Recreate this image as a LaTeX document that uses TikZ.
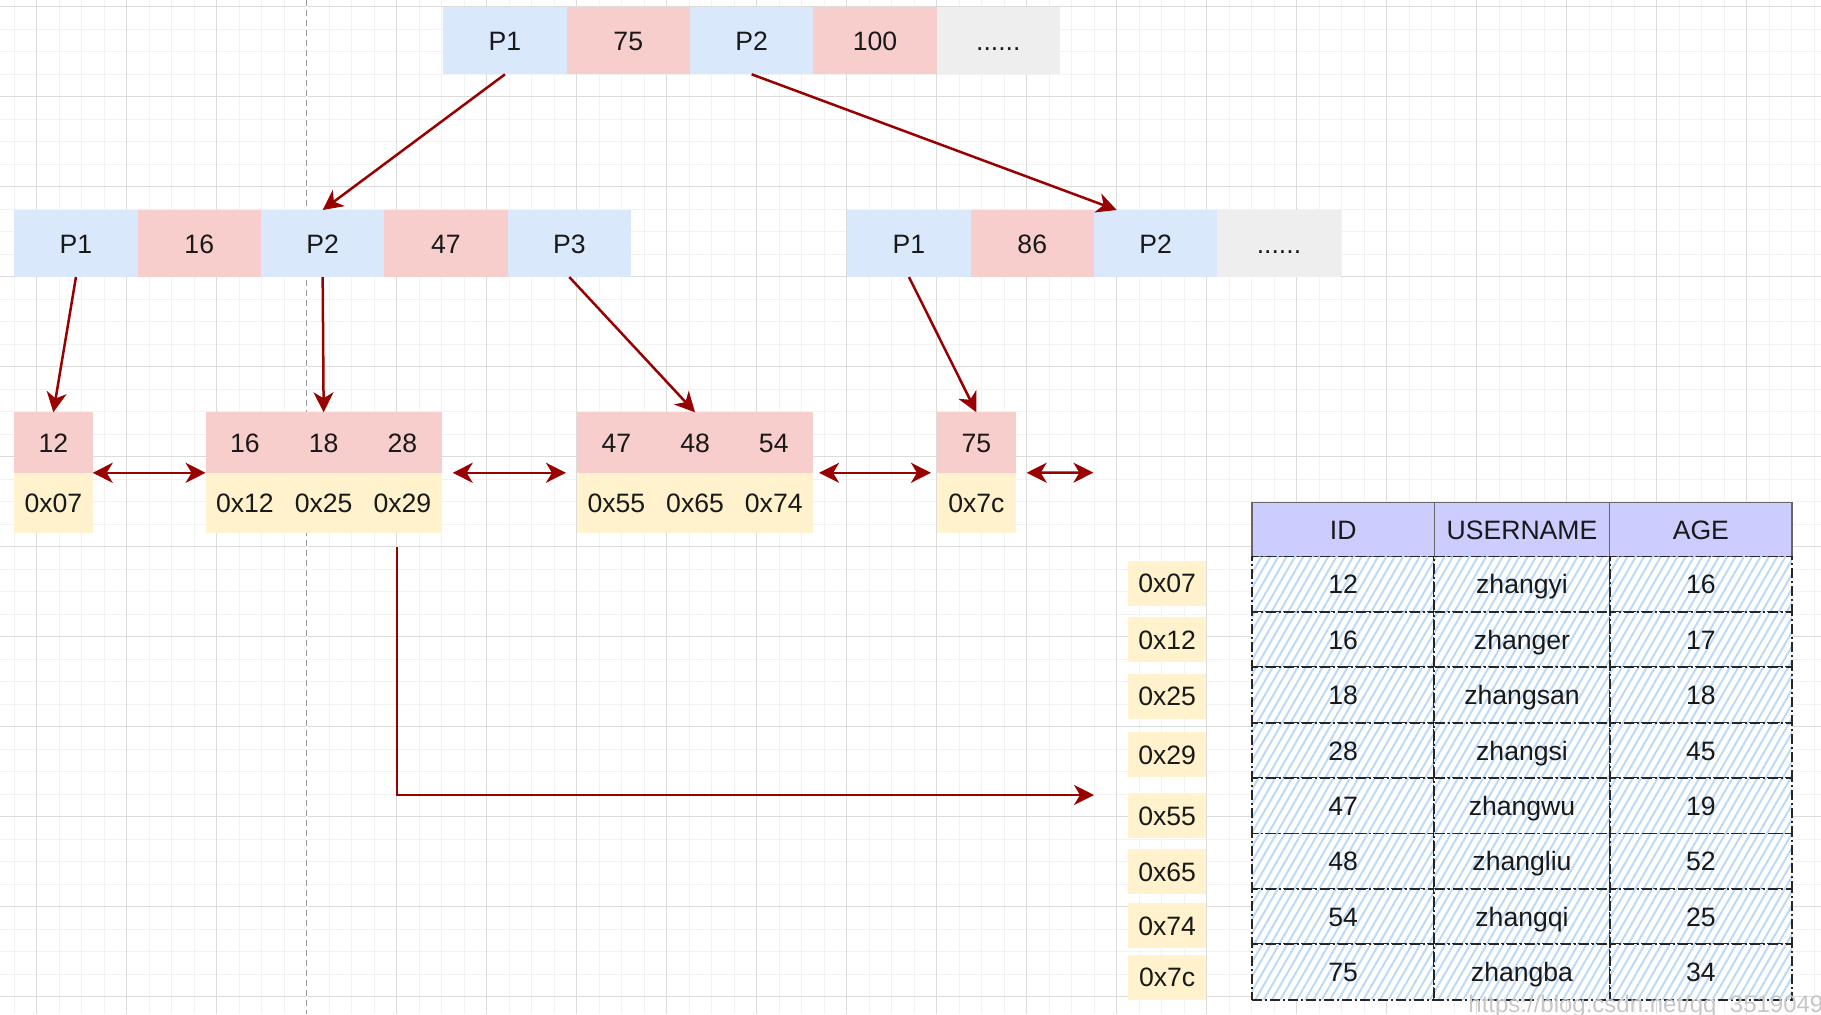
\documentclass[tikz,border=0pt]{standalone}
\usepackage{fontspec}
\setmainfont{Liberation Sans}
\usetikzlibrary{arrows.meta,patterns.meta,calc}
\definecolor{cblue}{HTML}{DAE8FC}
\definecolor{cpink}{HTML}{F8CECC}
\definecolor{cgray}{HTML}{EEEEEE}
\definecolor{cyel}{HTML}{FFF2CC}
\definecolor{cred}{HTML}{990000}
\definecolor{chead}{HTML}{CCCCFF}
\definecolor{chatch}{HTML}{BCDAF8}
\definecolor{gminor}{HTML}{F2F2F2}
\definecolor{gmajor}{HTML}{DCDCDC}
\begin{document}
\begin{tikzpicture}[x=0.5pt,y=-0.5pt,
 cellbase/.style={inner sep=0pt, outer sep=0pt, anchor=north west, text=black!90, font=\fontsize{13.3}{16}\selectfont, text height=9.6pt, text depth=-2pt},
 pcell/.style={cellbase, fill=cblue, minimum width=61.67pt, minimum height=33.5pt},
 kcell/.style={cellbase, fill=cpink, minimum width=61.67pt, minimum height=33.5pt},
 dcell/.style={cellbase, fill=cgray, minimum width=61.67pt, minimum height=33.5pt},
 lkey/.style={cellbase, fill=cpink, minimum width=39.35pt, minimum height=30.25pt, text depth=-2.6pt},
 laddr/.style={cellbase, fill=cyel, minimum width=39.35pt, minimum height=30.25pt, text depth=-2.6pt},
 abox/.style={cellbase, fill=cyel, minimum width=38.85pt, minimum height=22.25pt, text depth=-1.6pt},
 hcell/.style={cellbase, fill=chead, draw=black!60, line width=0.75pt, minimum height=27pt},
 bcell/.style={cellbase, preaction={fill=white}, pattern={Lines[angle=60,distance=3.6pt,line width=1pt]}, pattern color=chatch, draw=black!85, line width=0.9pt, dash pattern=on 5pt off 1.5pt on 1pt off 1.5pt, minimum height=27.7pt},
 wa/.style={minimum width=91.15pt},
 wb/.style={minimum width=87.7pt},
 link/.style={draw=cred, line width=1.25pt, -{Stealth[length=10pt,width=10pt,inset=3pt]}},
 blink/.style={draw=cred, line width=1.25pt, {Stealth[length=10pt,width=10pt,inset=3pt]}-{Stealth[length=10pt,width=10pt,inset=3pt]}}
]
\path[use as bounding box] (0,0) rectangle (1821,1014);
\clip (0,0) rectangle (1821,1014);
\fill[white] (0,0) rectangle (1821,1014);
% grid
\foreach \i in {0,...,80} \draw[gminor, line width=0.5pt] ({14.2+22.5*\i},0) -- ++(0,1014);
\foreach \j in {0,...,44} \draw[gminor, line width=0.5pt] (0,{6.7+22.5*\j}) -- ++(1821,0);
\foreach \i in {0,...,19} \draw[gmajor, line width=0.5pt] ({36.7+90*\i},0) -- ++(0,1014);
\foreach \j in {0,...,11} \draw[gmajor, line width=0.5pt] (0,{6.7+90*\j}) -- ++(1821,0);
\draw[white, line width=0.8pt] (306.7,0) -- (306.7,1014);
\draw[black!40, line width=0.6pt, dash pattern=on 3pt off 2pt] (306.7,0) -- (306.7,1014);

% root
\node[pcell] (t1) at (443.3,7.3) {P1};
\node[kcell] (t2) at (566.6,7.3) {75};
\node[pcell] (t3) at (690,7.3) {P2};
\node[kcell] (t4) at (813.3,7.3) {100};
\node[dcell] (t5) at (936.6,7.3) {......};

% second level left
\node[pcell] (a1) at (14.3,210) {P1};
\node[kcell] (a2) at (137.6,210) {16};
\node[pcell] (a3) at (261,210) {P2};
\node[kcell] (a4) at (384.3,210) {47};
\node[pcell] (a5) at (507.6,210) {P3};

% second level right
\node[pcell] (b1) at (847.3,210) {P1};
\node[kcell] (b2) at (970.6,210) {86};
\node[pcell] (b3) at (1094,210) {P2};
\node[dcell] (b4) at (1217.3,210) {......};

% leaves
\node[lkey] (l1k) at (14,412.3) {12};
\node[laddr] (l1a) at (14,472.8) {0x07};

\node[lkey] (l2k1) at (205.6,412.3) {16};
\node[lkey] (l2k2) at (284.3,412.3) {18};
\node[lkey] (l2k3) at (363,412.3) {28};
\node[laddr] (l2a1) at (205.6,472.8) {0x12};
\node[laddr] (l2a2) at (284.3,472.8) {0x25};
\node[laddr] (l2a3) at (363,472.8) {0x29};

\node[lkey] (l3k1) at (577,412.3) {47};
\node[lkey] (l3k2) at (655.7,412.3) {48};
\node[lkey] (l3k3) at (734.4,412.3) {54};
\node[laddr] (l3a1) at (577,472.8) {0x55};
\node[laddr] (l3a2) at (655.7,472.8) {0x65};
\node[laddr] (l3a3) at (734.4,472.8) {0x74};

\node[lkey] (l4k) at (937,412.3) {75};
\node[laddr] (l4a) at (937,472.8) {0x7c};

% address column
\node[abox] (d1) at (1128.3,561) {0x07};
\node[abox] (d2) at (1128.3,617.3) {0x12};
\node[abox] (d3) at (1128.3,674) {0x25};
\node[abox] (d4) at (1128.3,732.3) {0x29};
\node[abox] (d5) at (1128.3,793.3) {0x55};
\node[abox] (d6) at (1128.3,849.3) {0x65};
\node[abox] (d7) at (1128.3,903.3) {0x74};
\node[abox] (d8) at (1128.3,955) {0x7c};

% table
\node[hcell,wa] (h1) at (1252,502.5) {ID};
\node[hcell,wb] (h2) at (1434.3,502.5) {USERNAME};
\node[hcell,wa] (h3) at (1609.7,502.5) {AGE};
\foreach \k/\id/\nm/\ag in {0/12/zhangyi/16,1/16/zhanger/17,2/18/zhangsan/18,3/28/zhangsi/45,4/47/zhangwu/19,5/48/zhangliu/52,6/54/zhangqi/25,7/75/zhangba/34}{
  \node[bcell,wa] (r\k a) at (1252,{556.5+55.4*\k}) {\id};
  \node[bcell,wb] (r\k b) at (1434.3,{556.5+55.4*\k}) {\nm};
  \node[bcell,wa] (r\k c) at (1609.7,{556.5+55.4*\k}) {\ag};
}

% connectors
\draw[link] (t1.south) -- (a3.north);
\draw[link] (t3.south) -- ($(b3.north)+(-39,0)$);
\draw[link] (a1.south) -- (l1k.north);
\draw[link] (a3.south) -- (l2k2.north);
\draw[link] (a5.south) -- (l3k2.north);
\draw[link] (b1.south) -- (l4k.north);

\draw[blink] (l1k.south east) -- (l2k1.south west);
\draw[blink, shorten <=5.5pt, shorten >=5.5pt] (l2k3.south east) -- (l3k1.south west);
\draw[blink, shorten <=3pt, shorten >=3pt] (l3k3.south east) -- (l4k.south west);
\coordinate (tailend) at (1093.4,472.6);
\draw[blink, shorten <=5.5pt] (l4k.south east) -- (tailend);

\coordinate (lstart) at (397,547);
\coordinate (lend) at (1094,795);
\draw[link] (lstart) |- (lend);

% watermark
\node[anchor=base west, inner sep=0pt, text=black!22, font=\fontsize{12}{14}\selectfont] (wm) at (1468,1012) {https://blog.csdn.net/qq\_35190492};
\end{tikzpicture}
\end{document}
